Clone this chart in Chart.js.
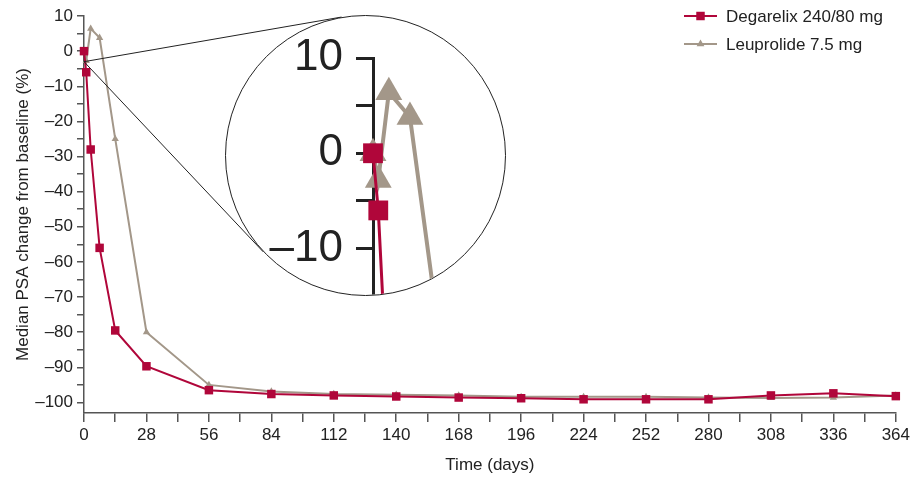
<!DOCTYPE html>
<html>
<head>
<meta charset="utf-8">
<script src="https://cdn.jsdelivr.net/npm/chart.js@4/dist/chart.umd.min.js"></script>
<style>
  html, body { margin: 0; padding: 0; background: #fff; }
  #wrap { position: relative; width: 913px; height: 478px; }
  #main { position: absolute; left: 0; top: 0; }
  #lens { position: absolute; border: 1px solid #222; border-radius: 50%; overflow: hidden; background: #fff; box-sizing: border-box; }
  #lens canvas { position: absolute; left: 0; top: 0; }
</style>
</head>
<body>
<div id="wrap">
  <canvas id="main" width="913" height="478"></canvas>
  <div id="lens"><canvas id="zoomed" width="279" height="423"></canvas></div>
</div>
<script>
// --- data ---
var days = [0, 1, 3, 7, 14, 28, 56, 84, 112, 140, 168, 196, 224, 252, 280, 308, 336, 364];
var degarelix = [0, -6, -28, -56, -79.5, -89.7, -96.5, -97.6, -98.0, -98.3, -98.6, -98.8, -99.1, -99.1, -99.1, -98.0, -97.4, -98.2];
var leuprolide = [0, -2.8, 6.4, 3.8, -25, -80, -95, -96.9, -97.6, -97.8, -98.0, -98.4, -98.4, -98.4, -98.6, -98.7, -98.6, -98.0];
var seriesNames = ["Degarelix 240/80 mg", "Leuprolide 7.5 mg"];
var xLabels = [0, 28, 56, 84, 112, 140, 168, 196, 224, 252, 280, 308, 336, 364];
var yLabels = [10, 0, -10, -20, -30, -40, -50, -60, -70, -80, -90, -100];
var lensLabels = [10, 0, -10];
var lensAnchor = [0, -3]; // point being magnified (day, %)

var RED = "#b0063a", GREY = "#a39789", AXIS = "#555", TEXT = "#222";
var FAMILY = "'Liberation Sans', Arial, sans-serif";
var LENS = { cx: 365.5, cy: 155.5, r: 140.5 };

function pairs(vals) {
  return days.map(function (d, i) { return { x: d, y: vals[i] }; });
}
function dash(v) { return v < 0 ? "\u2013" + Math.abs(v) : String(v); }

// labelled ticks plus a minor tick half way between each pair
function withMinors(labels) {
  var out = [];
  labels.forEach(function (v, i) {
    out.push({ value: v });
    if (i < labels.length - 1) out.push({ value: (v + labels[i + 1]) / 2 });
  });
  return out;
}

var lensEl = document.getElementById("lens");
lensEl.style.left = (LENS.cx - LENS.r) + "px";
lensEl.style.top = (LENS.cy - LENS.r) + "px";
lensEl.style.width = lensEl.style.height = (2 * LENS.r) + "px";

// tangent lines from the magnified point to the lens
var lensLines = {
  id: "lensLines",
  afterDatasetsDraw: function (chart) {
    var ctx = chart.ctx;
    var px = chart.scales.x.getPixelForValue(lensAnchor[0]);
    var py = chart.scales.y.getPixelForValue(lensAnchor[1]);
    var dx = LENS.cx - px, dy = LENS.cy - py;
    var d = Math.sqrt(dx * dx + dy * dy);
    var base = Math.atan2(dy, dx), half = Math.asin(LENS.r / d);
    var len = Math.sqrt(d * d - LENS.r * LENS.r);
    ctx.save();
    ctx.strokeStyle = "#222";
    ctx.lineWidth = 1;
    [base - half, base + half].forEach(function (a) {
      ctx.beginPath();
      ctx.moveTo(px, py);
      ctx.lineTo(px + len * Math.cos(a), py + len * Math.sin(a));
      ctx.stroke();
    });
    ctx.restore();
  }
};

// legend in the top right corner
var cornerLegend = {
  id: "cornerLegend",
  afterDraw: function (chart) {
    var ctx = chart.ctx;
    chart.data.datasets.forEach(function (ds, i) {
      var y = 16 + i * 28;
      ctx.save();
      ctx.strokeStyle = ds.borderColor;
      ctx.lineWidth = 2;
      ctx.beginPath();
      ctx.moveTo(684, y);
      ctx.lineTo(717, y);
      ctx.stroke();
      ctx.fillStyle = ds.backgroundColor;
      Chart.helpers.drawPoint(ctx, { pointStyle: ds.pointStyle, radius: ds.pointStyle === "rect" ? 6 : 4.5, borderWidth: 0, rotation: 0 }, 700.5, y);
      ctx.fillStyle = TEXT;
      ctx.font = "17px " + FAMILY;
      ctx.textBaseline = "middle";
      ctx.fillText(ds.label, 726, y + 1);
      ctx.restore();
    });
  }
};

function series(big) {
  return [
    { label: seriesNames[0], data: pairs(degarelix), borderColor: RED, backgroundColor: RED,
      borderWidth: big ? 3 : 2, pointStyle: "rect", pointRadius: big ? 14 : 6, pointBorderWidth: 0, clip: false },
    { label: seriesNames[1], data: pairs(leuprolide), borderColor: GREY, backgroundColor: GREY,
      borderWidth: big ? 4 : 2, pointStyle: "triangle", pointRadius: big ? 15.5 : 4.2, pointBorderWidth: 0, clip: false }
  ];
}

function noEdgePadding(s) { s.paddingTop = 0; s.paddingBottom = 0; }

var font17 = { family: FAMILY, size: 17 };

new Chart(document.getElementById("main"), {
  type: "line",
  data: { datasets: series(false) },
  options: {
    responsive: false,
    animation: false,
    layout: { autoPadding: false, padding: { left: 0, right: 17, top: 16, bottom: 0 } },
    plugins: { legend: { display: false }, tooltip: { enabled: false } },
    scales: {
      x: {
        type: "linear", min: 0, max: 364,
        ticks: { autoSkip: false, maxRotation: 0, font: font17, color: TEXT, padding: 3,
          callback: function (v) { return xLabels.indexOf(v) >= 0 ? String(v) : ""; } },
        afterBuildTicks: function (s) { s.ticks = withMinors(xLabels); },
        grid: { drawOnChartArea: false, tickLength: 9, color: AXIS, lineWidth: 1.5 },
        border: { color: AXIS, width: 1.5 },
        title: { display: true, text: "Time (days)", font: font17, color: TEXT, padding: { top: 0, bottom: 2 } },
        afterFit: function (s) { s.height = 65; }
      },
      y: {
        min: -103, max: 10,
        ticks: { autoSkip: false, font: font17, color: TEXT, padding: 4,
          callback: function (v) { return yLabels.indexOf(v) >= 0 ? dash(v) : ""; } },
        afterBuildTicks: function (s) { s.ticks = withMinors(yLabels); },
        grid: { drawOnChartArea: false, tickLength: 7, color: AXIS, lineWidth: 1.5 },
        border: { color: AXIS, width: 1.5 },
        title: { display: true, text: "Median PSA change from baseline (%)", font: font17, color: TEXT, padding: { top: 13, bottom: 0 } },
        afterFit: function (s) { s.width = 84; noEdgePadding(s); }
      }
    }
  },
  plugins: [lensLines, cornerLegend]
});

// magnified view inside the lens
new Chart(document.getElementById("zoomed"), {
  type: "line",
  data: { datasets: series(true) },
  options: {
    responsive: false,
    animation: false,
    layout: { autoPadding: false, padding: { left: 0, right: 0, top: 42, bottom: 0 } },
    plugins: { legend: { display: false }, tooltip: { enabled: false } },
    scales: {
      x: { type: "linear", display: false, min: 0, max: 25 },
      y: {
        min: -30, max: 10,
        ticks: { autoSkip: false, font: { family: FAMILY, size: 44 }, color: TEXT, padding: 13,
          callback: function (v) { return lensLabels.indexOf(v) >= 0 ? dash(v) : ""; } },
        afterBuildTicks: function (s) { s.ticks = withMinors(lensLabels); },
        grid: { drawOnChartArea: false, tickLength: 17, color: TEXT, lineWidth: 3 },
        border: { color: TEXT, width: 3 },
        afterFit: function (s) { s.width = 147; noEdgePadding(s); }
      }
    }
  }
});
</script>
</body>
</html>
